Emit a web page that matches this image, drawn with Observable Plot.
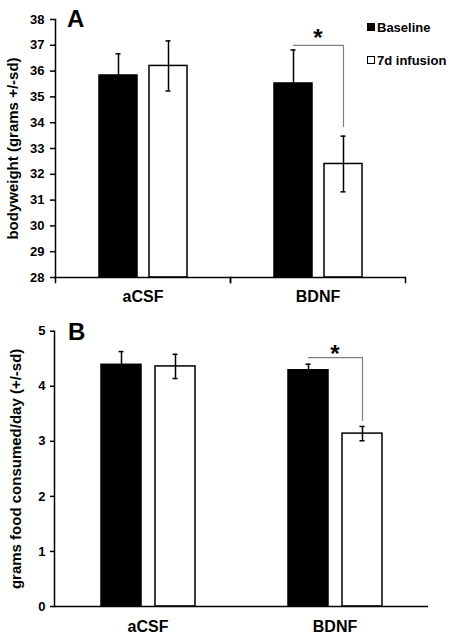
<!DOCTYPE html>
<html>
<head>
<meta charset="utf-8">
<script src="https://cdn.jsdelivr.net/npm/d3@7"></script>
<script src="https://cdn.jsdelivr.net/npm/@observablehq/plot@0.6"></script>
<style>
  body { margin: 0; background: #fff; }
  #wrap { position: relative; width: 451px; height: 637px; font-family: "Liberation Sans", Arial, sans-serif; color: #000; }
  #wrap svg { display: block; }
  .letter { position: absolute; font-size: 24px; line-height: 24px; font-weight: bold; }
  .leg { position: absolute; left: 367px; height: 14px; display: flex; align-items: center; font-size: 13px; font-weight: bold; white-space: nowrap; }
  .sw { width: 8px; height: 8px; box-sizing: border-box; border: 1px solid #000; margin-right: 2px; }
  g[aria-label="y-axis label"] text { font-size: 15px; }
</style>
</head>
<body>
<div id="wrap"></div>
<script>
// ---- data ----
const groups = ["aCSF", "BDNF"];
const series = ["Baseline", "7d infusion"];

const weightBaseline = [35.83, 35.52];
const weightBaselineSd = [0.84, 1.30];
const weightInfusion = [36.20, 32.40];
const weightInfusionSd = [0.97, 1.08];
const weightTicks = [28, 29, 30, 31, 32, 33, 34, 35, 36, 37, 38];

const foodBaseline = [4.39, 4.29];
const foodBaselineSd = [0.24, 0.11];
const foodInfusion = [4.36, 3.14];
const foodInfusionSd = [0.22, 0.13];
const foodTicks = [0, 1, 2, 3, 4, 5];

// significance brackets (BDNF): top level, end level, star level
const bracketWeight = [37.0, 33.85, 37.26];
const bracketFood = [4.52, 3.38, 4.58];

const labelWeight = "bodyweight (grams +/-sd)";
const labelFood = "grams food consumed/day (+/-sd)";

function rows(base, baseSd, inf, infSd) {
  return groups.flatMap((g, i) => [
    {group: g, series: series[0], mean: base[i], sd: baseSd[i]},
    {group: g, series: series[1], mean: inf[i], sd: infSd[i]}
  ]);
}

function panel(o) {
  const data = rows(...o.values);
  const base = o.ticks[0];
  const br = o.bracket;
  const bracketRows = [
    {group: groups[1], series: series[0], y: br[0]},
    {group: groups[1], series: series[1], y: br[0]},
    {group: groups[1], series: series[1], y: br[1]}
  ];
  const plotH = o.height - o.marginTop - o.marginBottom;
  const marks = [
    Plot.barY(data, {filter: d => d.series === series[0], fx: "group", x: "series", y1: base, y2: "mean", fill: "#000", stroke: "#000", strokeWidth: 1.5}),
    Plot.barY(data, {filter: d => d.series === series[1], fx: "group", x: "series", y1: base, y2: "mean", fill: "#fff", stroke: "#000", strokeWidth: 1.5}),
    Plot.ruleX(data, {fx: "group", x: "series", y1: d => d.mean - d.sd, y2: d => d.mean + d.sd, stroke: "#000", strokeWidth: 1.5}),
    Plot.tickY(data, {fx: "group", x: "series", y: d => d.mean + d.sd, insetLeft: o.capInset, insetRight: o.capInset, stroke: "#000", strokeWidth: 1.5}),
    Plot.tickY(data, {fx: "group", x: "series", y: d => d.mean - d.sd, insetLeft: o.capInset, insetRight: o.capInset, stroke: "#000", strokeWidth: 1.5}),
    Plot.line(bracketRows, {fx: "group", x: "series", y: "y", stroke: "#808080", strokeWidth: 1.2}),
    Plot.text([{group: groups[1], y: br[2]}], {fx: "group", y: "y", text: () => "*", fontSize: 24, fontWeight: "bold", fill: "#000"}),
    Plot.ruleY([base], {stroke: "#000", strokeWidth: 1.5}),
    Plot.frame({anchor: "left", facetAnchor: "left", stroke: "#000", strokeWidth: 1.5}),
    Plot.axisY({ticks: o.ticks, tickFormat: d => String(d), tickSize: o.tickSize, tickPadding: o.tickPadding, fontSize: 13, fontWeight: "bold", stroke: "#000", strokeWidth: 1.5, label: o.label, labelAnchor: "center", labelOffset: o.labelOffset, labelArrow: "none"}),
    Plot.axisFx({anchor: "bottom", tickSize: 0, tickPadding: o.fxPadding, fontSize: 16, fontWeight: "bold", label: null})
  ];
  if (o.xTicks) {
    marks.push(Plot.frame({anchor: "left", insetTop: plotH, insetBottom: -5, stroke: "#000", strokeWidth: 1.5}));
    marks.push(Plot.frame({anchor: "right", insetTop: plotH, insetBottom: -5, stroke: "#000", strokeWidth: 1.5}));
  }
  return Plot.plot({
    width: 451,
    height: o.height,
    marginLeft: o.marginLeft,
    marginRight: o.marginRight,
    marginTop: o.marginTop,
    marginBottom: o.marginBottom,
    style: {fontFamily: "Liberation Sans, Arial, sans-serif", color: "#000", background: "#fff", overflow: "visible"},
    fx: {domain: groups, padding: 0, label: null},
    x: {domain: series, paddingInner: o.pad[0], paddingOuter: o.pad[1], axis: null},
    y: {domain: [o.ticks[0], o.ticks[o.ticks.length - 1]], axis: null},
    marks
  });
}

const wrap = document.getElementById("wrap");

wrap.appendChild(panel({
  values: [weightBaseline, weightBaselineSd, weightInfusion, weightInfusionSd],
  ticks: weightTicks, bracket: bracketWeight, label: labelWeight,
  height: 310, marginLeft: 55, marginRight: 46, marginTop: 19, marginBottom: 33,
  pad: [0.24, 0.87], capInset: 16.5, tickSize: 5, tickPadding: 6, labelOffset: 48, fxPadding: 13, xTicks: true
}));

wrap.appendChild(panel({
  values: [foodBaseline, foodBaselineSd, foodInfusion, foodInfusionSd],
  ticks: foodTicks, bracket: bracketFood, label: labelFood,
  height: 327, marginLeft: 54, marginRight: 23, marginTop: 20.7, marginBottom: 31,
  pad: [0.26, 0.86], capInset: 17.5, tickSize: 4, tickPadding: 5, labelOffset: 44, fxPadding: 14, xTicks: false
}));

// panel letters and legend
function addDiv(cls, text, left, top) {
  const d = document.createElement("div");
  d.className = cls;
  d.style.left = left + "px";
  d.style.top = top + "px";
  d.textContent = text;
  wrap.appendChild(d);
  return d;
}
addDiv("letter", "A", 67, 7);
addDiv("letter", "B", 68, 320);

const legendFill = ["#000", "#fff"];
series.forEach((s, i) => {
  const row = document.createElement("div");
  row.className = "leg";
  row.style.top = (20 + i * 33) + "px";
  const sw = document.createElement("span");
  sw.className = "sw";
  sw.style.background = legendFill[i];
  const t = document.createElement("span");
  t.textContent = s;
  row.appendChild(sw);
  row.appendChild(t);
  wrap.appendChild(row);
});
</script>
</body>
</html>
